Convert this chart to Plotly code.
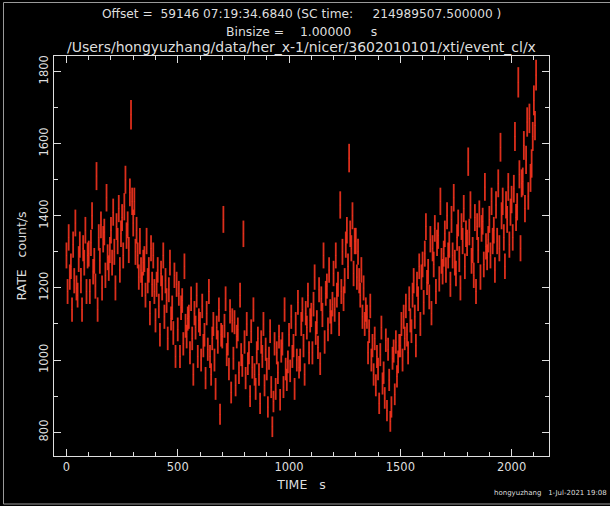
import numpy as np
import plotly.graph_objects as go

# NICER XTI light curve of Her X-1, obsid 3602010101, sampled every 5 s
BIN_STEP = 5.0      # spacing of the plotted samples (s)
BINSIZE = 1.0       # light-curve bin size (s)

rate = [
    # 0-45 s
    1290, 1190, 1340, 1230, 1260, 1140, 1320, 1220, 1380, 1200,
    1180, 1280, 1320, 1220, 1140, 1310, 1270, 1360, 1190, 1290,
    1295, 1190, 1325, 1400, 1245, 1275, 1205, 1510, 1140, 1340,
    1275, 1375, 1200, 1335, 1355, 1235, 1450, 1285, 1255, 1305,
    # 200 s
    1360, 1270, 1410, 1300, 1200, 1370, 1330, 1420, 1250, 1350,
    1395, 1290, 1425, 1500, 1345, 1375, 1305, 1465, 1680, 1440,
    1380, 1440, 1300, 1360, 1290, 1230, 1330, 1250, 1210, 1270,
    1280, 1180, 1330, 1220, 1250, 1130, 1310, 1210, 1290, 1190,
    # 400 s
    1110, 1210, 1250, 1150, 1070, 1240, 1200, 1290, 1120, 1220,
    1165, 1060, 1195, 1270, 1115, 1145, 1075, 1235, 1010, 1210,
    1085, 1185, 1010, 1145, 1165, 1045, 1260, 1095, 1065, 1115,
    1120, 1020, 1170, 1060, 960, 1130, 1090, 1180, 1010, 1110,
    # 600 s
    1100, 1000, 1150, 1040, 1070, 950, 1130, 1030, 1190, 1010,
    960, 1060, 1100, 1000, 920, 1090, 1050, 1140, 850, 1070,
    1065, 1390, 1095, 1170, 1015, 1045, 975, 1135, 910, 1110,
    1005, 1105, 930, 1065, 1085, 965, 1180, 1015, 985, 1350,
    # 800 s
    1050, 950, 1100, 990, 1020, 900, 1080, 980, 1140, 960,
    920, 1020, 1060, 960, 880, 1050, 1010, 1100, 930, 1030,
    975, 870, 1005, 1080, 925, 815, 885, 1045, 920, 1020,
    965, 1065, 890, 1025, 1045, 925, 1140, 975, 945, 995,
    # 1000 s
    1070, 970, 1120, 1010, 1040, 920, 1100, 1000, 1160, 980,
    1000, 1100, 1140, 1040, 960, 1130, 1090, 1180, 1020, 1110,
    1125, 1020, 1155, 1230, 1075, 1105, 1035, 1195, 990, 1170,
    1125, 1290, 1050, 1185, 1205, 1085, 1250, 1135, 1105, 1155,
    # 1200 s
    1240, 1140, 1290, 1180, 1210, 1100, 1430, 1190, 1300, 1170,
    1220, 1320, 1360, 1260, 1560, 1350, 1310, 1400, 1240, 1330,
    1330, 1230, 1300, 1220, 1180, 1250, 1120, 1200, 1100, 1140,
    1120, 1020, 1080, 1150, 1000, 1040, 960, 1060, 930, 1010,
    # 1400 s
    975, 880, 1015, 1090, 935, 965, 895, 1055, 860, 1030,
    945, 830, 870, 1005, 1025, 905, 1050, 955, 995, 1040,
    1040, 1100, 1000, 1120, 1060, 1150, 1070, 1020, 1170, 1110,
    1080, 1180, 1220, 1120, 1040, 1210, 1170, 1260, 1100, 1230,
    # 1600 s
    1265, 1160, 1295, 1370, 1215, 1245, 1175, 1335, 1130, 1310,
    1265, 1365, 1190, 1325, 1345, 1225, 1440, 1275, 1245, 1295,
    1350, 1250, 1400, 1290, 1320, 1210, 1390, 1290, 1450, 1270,
    1240, 1340, 1380, 1280, 1200, 1370, 1330, 1420, 1260, 1350,
    # 1800 s
    1325, 1550, 1355, 1430, 1275, 1305, 1235, 1395, 1190, 1370,
    1305, 1405, 1230, 1365, 1385, 1265, 1480, 1315, 1285, 1335,
    1390, 1290, 1440, 1330, 1360, 1250, 1430, 1330, 1490, 1310,
    1590, 1400, 1440, 1340, 1260, 1430, 1390, 1480, 1320, 1410,
    # 2000 s
    1445, 1340, 1475, 1620, 1395, 1425, 1770, 1515, 1310, 1490,
    1495, 1595, 1420, 1555, 1660, 1455, 1670, 1505, 1545, 1620,
    1720, 1650, 1790,
]

x_ticks = [0, 500, 1000, 1500, 2000]
y_ticks = [800, 1000, 1200, 1400, 1600, 1800]

title_lines = [
    "Offset =  59146 07:19:34.6840 (SC time:     214989507.500000 )",
    "Binsize =    1.00000     s",
    "/Users/hongyuzhang/data/her_x-1/nicer/3602010101/xti/event_cl/x",
]
title_sizes = [12.2, 12.4, 14.0]
footer = "hongyuzhang   1-Jul-2021 19:08"

rate_arr = np.array(rate, dtype=float)
time = np.arange(len(rate_arr)) * BIN_STEP
# Poisson error on the count rate of a 1 s bin
err = np.sqrt(rate_arr * BINSIZE) / BINSIZE

FG = "#dedede"
RED = "rgba(255,54,32,0.86)"
FONT = "DejaVu Sans"


def nb(s):
    return s.replace(" ", "\u00a0")


fig = go.Figure()
fig.add_trace(go.Scatter(
    x=time, y=rate_arr, mode="markers",
    marker=dict(size=1, color=RED),
    error_y=dict(type="data", array=err, width=0, thickness=1.8, color=RED),
    hoverinfo="skip", showlegend=False,
))

W, H = 610, 506
L, R, T, B = 54, 549, 56, 456


def px_x(p):
    return (p - L) / (R - L)


def px_y(p):
    return (B - p) / (B - T)


annotations = []
for text, py, fs in zip(title_lines, [14, 31, 47], title_sizes):
    annotations.append(dict(
        text=nb(text), x=px_x(301), y=px_y(py), xref="paper", yref="paper",
        xanchor="center", yanchor="middle", showarrow=False,
        font=dict(family=FONT, size=fs, color=FG),
    ))
annotations.append(dict(
    text=nb(footer), x=px_x(609), y=px_y(493), xref="paper", yref="paper",
    xanchor="right", yanchor="middle", showarrow=False,
    font=dict(family=FONT, size=7.0, color=FG),
))

shapes = [
    dict(type="line", xref="paper", yref="paper",
         x0=px_x(3.5), x1=px_x(3.5), y0=px_y(2.5), y1=px_y(504),
         line=dict(color="#9a9a9a", width=1)),
    dict(type="line", xref="paper", yref="paper",
         x0=px_x(3.5), x1=px_x(610), y0=px_y(2.5), y1=px_y(2.5),
         line=dict(color="#9a9a9a", width=1)),
    dict(type="line", xref="paper", yref="paper",
         x0=px_x(3.5), x1=px_x(610), y0=px_y(504), y1=px_y(504),
         line=dict(color="#9a9a9a", width=1)),
]

axis_common = dict(
    showgrid=False, zeroline=False, showline=True, linecolor=FG, linewidth=1,
    ticks="inside", tickcolor=FG, ticklen=7, tickwidth=1, mirror="allticks",
    tickfont=dict(family=FONT, size=11.5, color=FG),
)

fig.update_layout(
    width=W, height=H,
    margin=dict(l=L, r=W - R, t=T, b=H - B),
    paper_bgcolor="black", plot_bgcolor="black",
    font=dict(family=FONT, color=FG),
    xaxis=dict(
        range=[-56, 2168], tickvals=x_ticks,
        minor=dict(dtick=100, tick0=0, ticks="inside", ticklen=4, tickcolor=FG),
        title=dict(text=nb("TIME   s"), font=dict(family=FONT, size=12.5, color=FG), standoff=7),
        **axis_common,
    ),
    yaxis=dict(
        range=[734, 1843], tickvals=y_ticks, tickangle=-90,
        minor=dict(dtick=100, tick0=0, ticks="inside", ticklen=4, tickcolor=FG),
        title=dict(text=nb("RATE   count/s"), font=dict(family=FONT, size=12.5, color=FG), standoff=8),
        **axis_common,
    ),
    annotations=annotations,
    shapes=shapes,
)

fig.write_html("out.html")
